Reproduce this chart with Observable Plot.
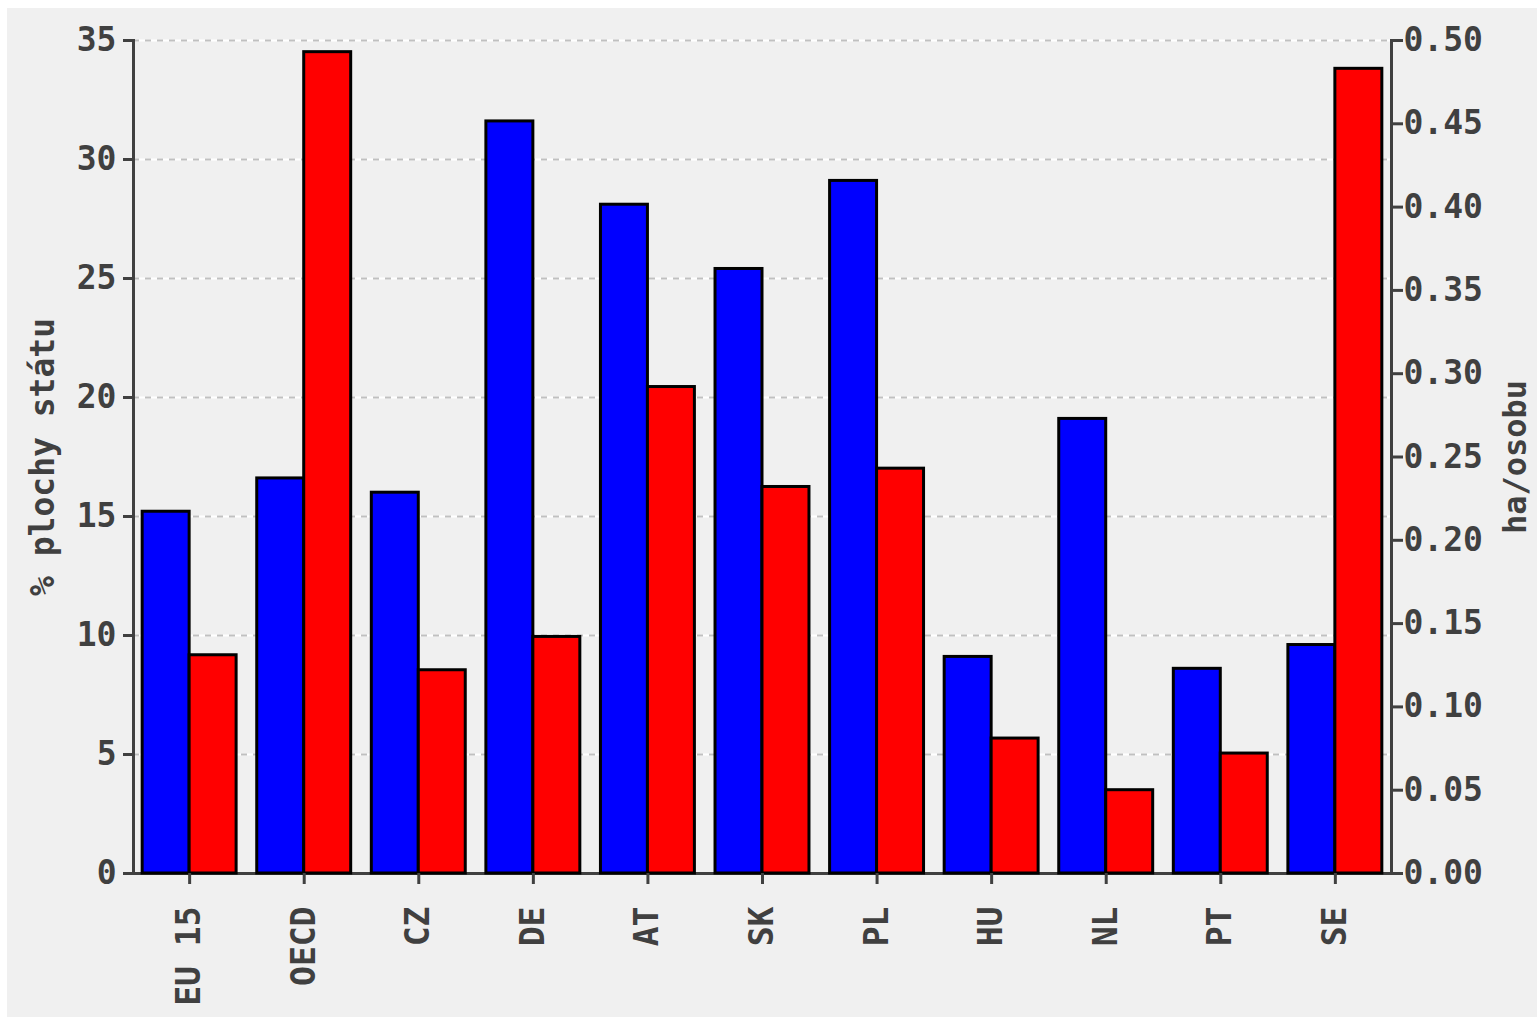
<!DOCTYPE html>
<html>
<head>
<meta charset="utf-8">
<script src="https://cdn.jsdelivr.net/npm/d3@7"></script>
<script src="https://cdn.jsdelivr.net/npm/@observablehq/plot@0.6"></script>
<style>
  html, body { margin: 0; padding: 0; background: #ffffff; }
  #panel { position: absolute; left: 7px; top: 8px; width: 1530px; height: 1009px; background: #f0f0f0; }
  #chart { position: absolute; left: 0; top: 0; }
  #chart svg { background: transparent; }
</style>
</head>
<body>
<div id="panel"></div>
<div id="chart"></div>
<script>
const categories = ["EU 15", "OECD", "CZ", "DE", "AT", "SK", "PL", "HU", "NL", "PT", "SE"];
const areaShare = [15.2, 16.6, 16.0, 31.6, 28.1, 25.4, 29.1, 9.1, 19.1, 8.6, 9.6];      // % plochy státu (left axis)
const haPerPerson = [0.131, 0.493, 0.122, 0.142, 0.292, 0.232, 0.243, 0.081, 0.050, 0.072, 0.483]; // ha/osobu (right axis)
const leftTicks = [0, 5, 10, 15, 20, 25, 30, 35];
const rightTicks = [0, 0.05, 0.10, 0.15, 0.20, 0.25, 0.30, 0.35, 0.40, 0.45, 0.50];
const leftLabel = "% plochy státu";
const rightLabel = "ha/osobu";

const ratio = 35 / 0.5; // right axis mapped onto left scale
const rows = categories.map((c, i) => ({cat: c, share: areaShare[i], ha: haPerPerson[i]}));

const W = 1537, H = 1017;
const mL = 133, mR = 146, mT = 40, mB = 144;
const pInner = 0.18, pOuter = 0.08;
const step = (W - mL - mR) / (categories.length - pInner + 2 * pOuter);
const half = step * (1 - pInner) / 2;

const font = "'DejaVu Sans Mono', monospace";
const axisColor = "#404040";

const chart = Plot.plot({
  width: W,
  height: H,
  marginLeft: mL,
  marginRight: mR,
  marginTop: mT,
  marginBottom: mB,
  style: {fontFamily: font, fontWeight: "bold", fontSize: "33px", color: axisColor, background: "transparent"},
  x: {domain: categories, paddingInner: pInner, paddingOuter: pOuter, round: false, axis: null},
  y: {domain: [0, 35], axis: null},
  marks: [
    Plot.ruleY(leftTicks, {stroke: "#ffffff", strokeWidth: 2}),
    Plot.ruleY(leftTicks, {stroke: "#c0c0c0", strokeWidth: 2, strokeDasharray: "6,6"}),
    Plot.frame({anchor: "left", stroke: axisColor, strokeWidth: 3}),
    Plot.frame({anchor: "right", stroke: axisColor, strokeWidth: 3}),
    Plot.ruleY([0], {stroke: axisColor, strokeWidth: 3, insetLeft: -10, insetRight: -11}),
    Plot.barY(rows, {x: "cat", y: "share", fill: "#0000ff", stroke: "#000000", strokeWidth: 3, insetRight: half}),
    Plot.barY(rows, {x: "cat", y: d => d.ha * ratio, fill: "#ff0000", stroke: "#000000", strokeWidth: 3, insetLeft: half}),
    Plot.axisY(leftTicks, {anchor: "left", tickSize: 10, tickPadding: 7, strokeWidth: 3, stroke: axisColor, label: null}),
    Plot.axisY(rightTicks.map(t => t * ratio), {anchor: "right", tickSize: 11, tickPadding: 1, strokeWidth: 3, stroke: axisColor, label: null, tickFormat: d => (d / ratio).toFixed(2)}),
    Plot.axisX({anchor: "bottom", tickSize: 11, tickPadding: 22, tickRotate: -90, strokeWidth: 3, stroke: axisColor, label: null}),
    Plot.text([leftLabel], {frameAnchor: "left", textAnchor: "middle", dx: -90, rotate: -90, fill: axisColor, fontSize: 33, fontWeight: "bold"}),
    Plot.text([rightLabel], {frameAnchor: "right", textAnchor: "middle", dx: 124, rotate: -90, fill: axisColor, fontSize: 32, fontWeight: "bold"})
  ]
});
document.getElementById("chart").appendChild(chart);
</script>
</body>
</html>
